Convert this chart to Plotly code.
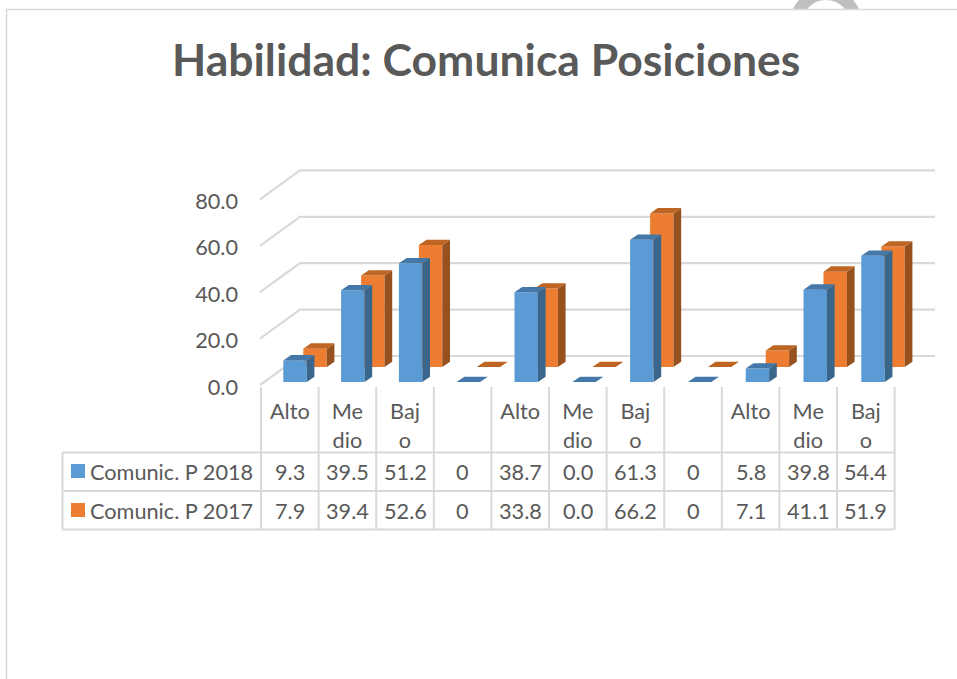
import plotly.graph_objects as go

title = "Habilidad: Comunica Posiciones"
categories_line1 = ["Alto", "Me", "Baj", "", "Alto", "Me", "Baj", "", "Alto", "Me", "Baj"]
categories_line2 = ["", "dio", "o", "", "", "dio", "o", "", "", "dio", "o"]
series_names = ["Comunic. P 2018", "Comunic. P 2017"]
values_2018 = [9.3, 39.5, 51.2, 0, 38.7, 0.0, 61.3, 0, 5.8, 39.8, 54.4]
values_2017 = [7.9, 39.4, 52.6, 0, 33.8, 0.0, 66.2, 0, 7.1, 41.1, 51.9]
y_ticks = [0, 20, 40, 60, 80]

W, H = 957, 679
CELL = 57.6          # px per category
BAR_STEP = 57.8      # px between neighbouring bars of one series
PXV = 2.32           # px per value unit
X0, Y0 = 261, 385    # pixel position of category 0 / value 0 (front corner)
FONT = "Lato"
FS = 21.7
TXT = "#595959"
GRID = "#D9D9D9"


def ux(px):
    return (px - X0) / CELL


def uy(px):
    return (Y0 - px) / PXV


def py(px):
    return 1 - px / H


BAR_W = 23.4 / CELL
DX, DY = 7.7 / CELL, 5.3 / PXV


def series_traces(vals, name, left_px, base_px, front, top, side):
    base = uy(base_px)
    xs = [(i * BAR_STEP + left_px + 11.7) / CELL for i in range(len(vals))]
    bar = go.Bar(x=xs, y=vals, base=base, width=BAR_W, name=name,
                 marker=dict(color=front, line=dict(width=0)), showlegend=False)
    tx, ty, sx, sy = [], [], [], []
    for x, v in zip(xs, vals):
        l, r = x - BAR_W / 2, x + BAR_W / 2
        t = base + v
        tx += [l, r, r + DX, l + DX, l, None]
        ty += [t, t, t + DY, t + DY, t, None]
        sx += [r, r + DX, r + DX, r, r, None]
        sy += [base, base + DY, t + DY, t, base, None]
    kw = dict(mode="lines", fill="toself", line=dict(width=0), hoverinfo="skip", showlegend=False)
    return bar, go.Scatter(x=sx, y=sy, fillcolor=side, **kw), go.Scatter(x=tx, y=ty, fillcolor=top, **kw)


b18 = series_traces(values_2018, series_names[0], 22.3, 382, "#5B9BD5", "#4478A9", "#3B668C")
b17 = series_traces(values_2017, series_names[1], 42.3, 367, "#ED7D31", "#BF6523", "#97511E")

fig = go.Figure()
for tr in [b17[0], b18[0], b17[1], b17[2], b18[1], b18[2]]:
    fig.add_trace(tr)
fig.add_trace(go.Scatter(x=[], y=[], xaxis="x2", yaxis="y", showlegend=False))

shapes = []
# ring behind the page sheet
shapes.append(dict(type="circle", xref="paper", yref="paper", x0=795.5 / W, x1=856.5 / W,
                   y0=py(55), y1=py(-6), line=dict(color="#BFBFBF", width=12), layer="below"))
shapes.append(dict(type="rect", xref="paper", yref="paper", x0=6.5 / W, x1=1.01, y0=-0.01, y1=py(9.5),
                   fillcolor="white", line=dict(color="#D9D9D9", width=1.5), layer="below"))
# gridlines
for t in y_ticks:
    path = f"M {ux(260)} {t} L {ux(300)} {t + 29 / PXV} L {ux(935)} {t + 29 / PXV}"
    shapes.append(dict(type="path", xref="x", yref="y", path=path, line=dict(color=GRID, width=2.2), layer="below"))


def hline(x0, x1, y):
    shapes.append(dict(type="line", xref="paper", yref="paper", x0=x0 / W, x1=x1 / W, y0=py(y), y1=py(y),
                       line=dict(color=GRID, width=2), layer="below"))


def vline(x, y0, y1):
    shapes.append(dict(type="line", xref="paper", yref="paper", x0=x / W, x1=x / W, y0=py(y0), y1=py(y1),
                       line=dict(color=GRID, width=2), layer="below"))


for y in (452.5, 491, 529.5):
    hline(62.5, X0 + CELL * 11, y)
vline(62.5, 452.5, 529.5)
for i in range(12):
    vline(X0 + CELL * i, 387, 529.5)

# legend keys
shapes.append(dict(type="rect", xref="paper", yref="paper", x0=71 / W, x1=85 / W, y0=py(478), y1=py(464),
                   fillcolor="#5B9BD5", line=dict(width=0)))
shapes.append(dict(type="rect", xref="paper", yref="paper", x0=71 / W, x1=85 / W, y0=py(517), y1=py(503),
                   fillcolor="#ED7D31", line=dict(width=0)))

annotations = [dict(text=f"<b>{title}</b>", xref="paper", yref="paper", x=486.5 / W, y=py(58), showarrow=False,
                    xanchor="center", yanchor="middle", font=dict(family=FONT, size=44.5, color=TXT))]
for row_y, name, vals in zip((472, 511), series_names, (values_2018, values_2017)):
    annotations.append(dict(text=name, xref="paper", yref="paper", x=88 / W, y=py(row_y), showarrow=False,
                            xanchor="left", yanchor="middle", font=dict(family=FONT, size=FS, color=TXT)))
    for i, v in enumerate(vals):
        label = "0" if categories_line1[i] == "" else f"{v:.1f}"
        annotations.append(dict(text=label, xref="x", yref="paper", x=i + 0.5, y=py(row_y), showarrow=False,
                                xanchor="center", yanchor="middle", font=dict(family=FONT, size=FS, color=TXT)))

tick_x = [i + 0.5 for i in range(len(categories_line1))]
x_common = dict(range=[ux(0), ux(W)], tickmode="array", tickvals=tick_x, showgrid=False, zeroline=False,
                showline=False, ticks="", tickfont=dict(family=FONT, size=FS, color=TXT))

fig.update_layout(
    width=W, height=H, margin=dict(l=0, r=0, t=0, b=0), paper_bgcolor="white", plot_bgcolor="rgba(0,0,0,0)",
    barmode="overlay", showlegend=False, shapes=shapes, annotations=annotations,
    xaxis=dict(domain=[0, 1], anchor="free", position=py(396), ticktext=categories_line1, **x_common),
    xaxis2=dict(overlaying="x", anchor="free", position=py(425), ticktext=categories_line2, **x_common),
    yaxis=dict(domain=[0, 1], range=[uy(H), uy(0)], tickmode="array", tickvals=y_ticks,
               ticktext=[f"{t:.1f}" for t in y_ticks], anchor="free", position=238 / W, showgrid=False,
               zeroline=False, showline=False, ticks="", ticklabelshift=2,
               tickfont=dict(family=FONT, size=FS, color=TXT)),
)

fig.write_html("out.html", config=dict(displayModeBar=False),
               post_script="document.documentElement.style.overflow='hidden';document.body.style.margin='0';")
